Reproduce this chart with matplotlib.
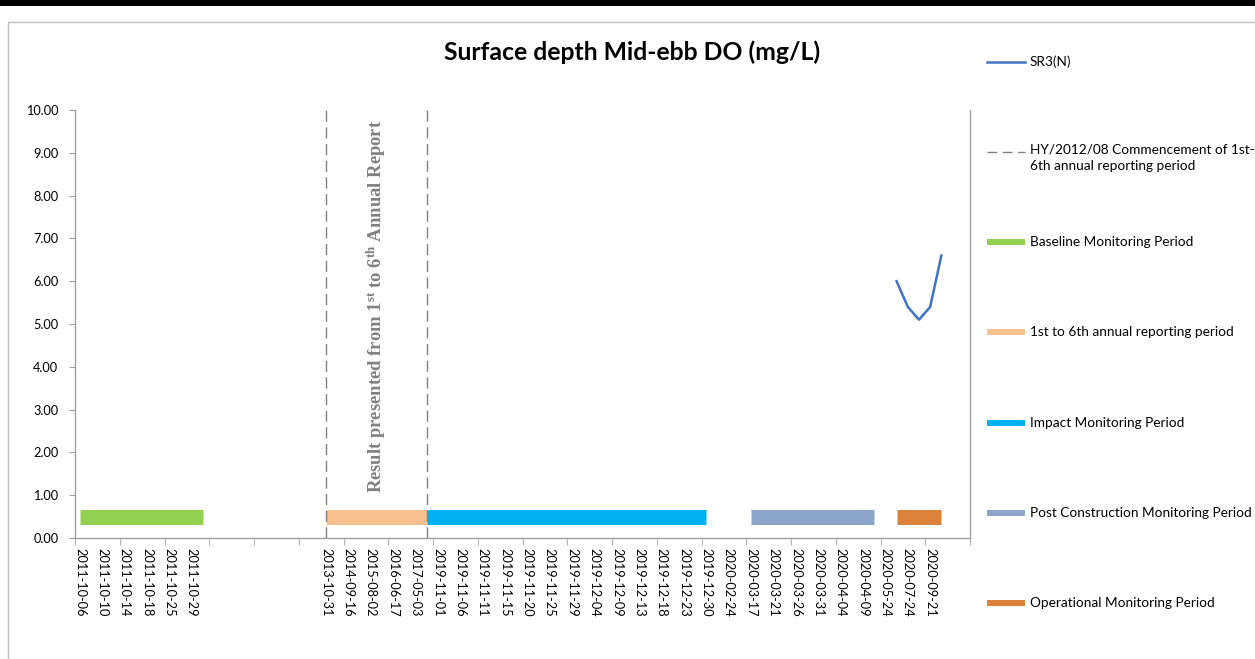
import matplotlib
matplotlib.use("Agg")
import matplotlib.pyplot as plt
from matplotlib.lines import Line2D
from matplotlib.patches import Rectangle

plt.rcParams["mathtext.fontset"] = "custom"
plt.rcParams["mathtext.rm"] = "Liberation Serif"
plt.rcParams["mathtext.bf"] = "Liberation Serif:bold"
plt.rcParams["mathtext.it"] = "Liberation Serif:italic"

# ---------------- data ----------------
categories = [
    "2011-10-06", "2011-10-10", "2011-10-14", "2011-10-18", "2011-10-25", "2011-10-29",
    "", "", "", "", "",
    "2013-10-31", "2014-09-16", "2015-08-02", "2016-06-17", "2017-05-03",
    "2019-11-01", "2019-11-06", "2019-11-11", "2019-11-15", "2019-11-20", "2019-11-25",
    "2019-11-29", "2019-12-04", "2019-12-09", "2019-12-13", "2019-12-18", "2019-12-23",
    "2019-12-30", "2020-02-24", "2020-03-17", "2020-03-21", "2020-03-26", "2020-03-31",
    "2020-04-04", "2020-04-09", "2020-05-24", "2020-07-24", "2020-09-21",
]

sr3_x = [36.5, 37.0, 37.5, 38.0, 38.5]
sr3_y = [6.0, 5.4, 5.1, 5.4, 6.6]

period_names = [
    "Baseline Monitoring Period",
    "1st to 6th annual reporting period",
    "Impact Monitoring Period",
    "Post Construction Monitoring Period",
    "Operational Monitoring Period",
]
period_start = [0.0, 11.0, 15.5, 30.0, 36.5]
period_end = [5.5, 15.5, 28.0, 35.5, 38.5]
period_level = [0.5, 0.5, 0.5, 0.5, 0.5]
period_colors = ["#92D050", "#F8BF8F", "#00B0F0", "#8EA5CB", "#DC823B"]

commence_x = [11.0, 15.5]

y_ticks = [0, 1, 2, 3, 4, 5, 6, 7, 8, 9, 10]

title = "Surface depth Mid-ebb DO (mg/L)"
sr3_label = "SR3(N)"
dash_label = "HY/2012/08 Commencement of 1st-\n6th annual reporting period"

# ---------------- figure ----------------
W, H = 1255, 659
fig = plt.figure(figsize=(W / 100, H / 100), dpi=100)
FONT = "Lato"
GRAY = "#A0A0A0"

def px(x, y):
    return x / W, 1 - y / H

# top black band and chart frame
fig.add_artist(Rectangle((0, 1 - 6 / H), 1, 6 / H, transform=fig.transFigure,
                         color="black", lw=0, zorder=0))
fig.add_artist(Line2D([8 / W, 8 / W, 1], [0, 1 - 22 / H, 1 - 22 / H],
                      transform=fig.transFigure, color="#BFBFBF", lw=1.0))

ax_l, ax_r, ax_t, ax_b = 75, 970, 110, 538
ax = fig.add_axes([ax_l / W, 1 - ax_b / H, (ax_r - ax_l) / W, (ax_b - ax_t) / H])

x0, x1 = -0.22, 39.73
ax.set_xlim(x0, x1)
ax.set_ylim(0, 10)

# period bars
for name, s, e, lv, c in zip(period_names, period_start, period_end, period_level, period_colors):
    ax.plot([s, e], [lv, lv], color=c, lw=10.8, solid_capstyle="butt", zorder=2)

# commencement dashed lines
for xv in commence_x:
    ax.axvline(xv, color="#808080", lw=1.0, ls=(0, (8, 4)), zorder=3)

# SR3 line
ax.plot(sr3_x, sr3_y, color="#4472C4", lw=1.8, zorder=4)

# annotation text
ax.text((commence_x[0] + commence_x[1]) / 2, 0.541,
        r"Result presented from 1$^{\mathbf{st}}$ to 6$^{\mathbf{th}}$ Annual Report",
        transform=ax.get_xaxis_transform(), rotation=90, ha="center", va="center",
        fontsize=13.4, color="#808080", family="Liberation Serif", fontweight="bold")

# axes styling
ax.spines["top"].set_visible(False)
for sp in ["left", "right", "bottom"]:
    ax.spines[sp].set_color(GRAY)
    ax.spines[sp].set_linewidth(1.0)

ax.set_yticks(y_ticks)
ax.set_yticklabels([f"{v:.2f}" for v in y_ticks], fontsize=9.2, family=FONT)
ax.tick_params(axis="y", direction="out", length=4, color=GRAY, pad=8)

ax.set_xticks(range(len(categories)))
ax.set_xticklabels(categories, rotation=-90, fontsize=9.2, family=FONT, va="top", ha="center")
ax.tick_params(axis="x", which="major", length=0, pad=7)
ax.set_xticks([x0 + 2 * m for m in range(21)], minor=True)
ax.tick_params(axis="x", which="minor", direction="out", length=5, color=GRAY)

# title
fig.text(*px(632, 52), title, ha="center", va="center", fontsize=17.8,
         family=FONT, fontweight="bold")

# manual legend
LFS = 9.8
leg_y = [62, 152, 242, 332, 423, 513, 603]
hx0, hx1, tx = 987, 1025, 1030
fig.add_artist(Line2D([hx0 / W, hx1 / W], [1 - leg_y[0] / H] * 2, transform=fig.transFigure,
                      color="#4472C4", lw=1.8))
fig.text(*px(tx, leg_y[0]), sr3_label, ha="left", va="center", fontsize=LFS, family=FONT)
fig.add_artist(Line2D([hx0 / W, hx1 / W], [1 - leg_y[1] / H] * 2, transform=fig.transFigure,
                      color="#808080", lw=1.0, ls=(0, (7, 4))))
fig.text(*px(tx, leg_y[1] - 8), dash_label, ha="left", va="top", fontsize=LFS,
         family=FONT, linespacing=1.4)
for name, c, yy in zip(period_names, period_colors, leg_y[2:]):
    fig.add_artist(Line2D([hx0 / W, hx1 / W], [1 - yy / H] * 2, transform=fig.transFigure,
                          color=c, lw=4.3, solid_capstyle="butt"))
    fig.text(*px(tx, yy), name, ha="left", va="center", fontsize=LFS, family=FONT)

fig.savefig("out.png", dpi=100)
